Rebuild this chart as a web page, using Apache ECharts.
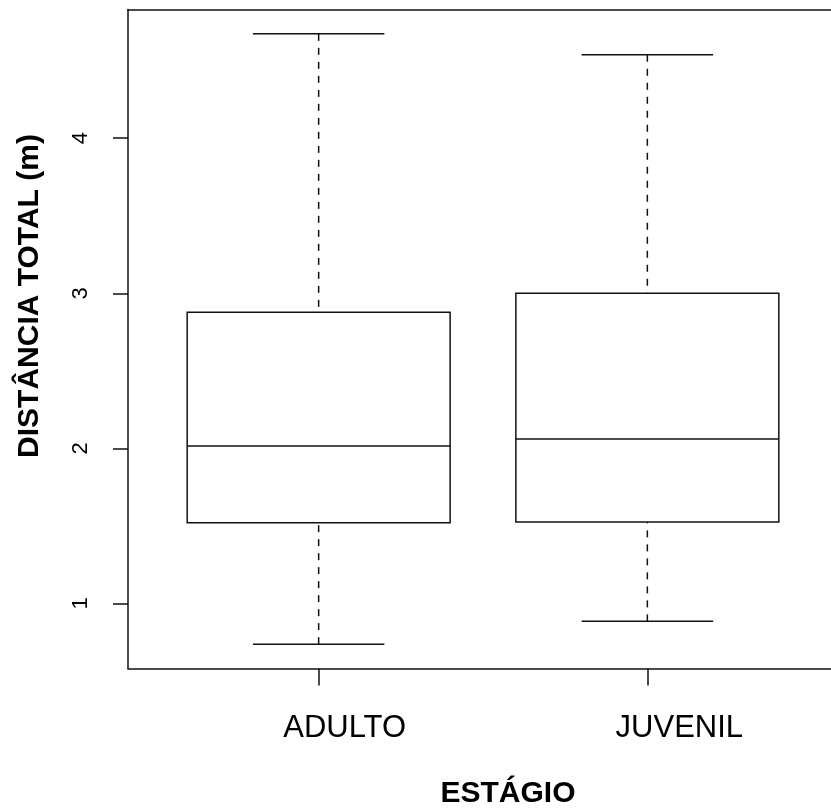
<!DOCTYPE html>
<html><head><meta charset="utf-8">
<script src="https://cdn.jsdelivr.net/npm/echarts@6/dist/echarts.min.js"></script>
<style>html,body{margin:0;padding:0;background:#fff}#c{width:831px;height:808px}</style>
</head><body><div id="c"></div>
<script>
const categories = ['ADULTO', 'JUVENIL'];
const positions = [1, 2];
const lowWhisker = [0.737, 0.884];
const q1 = [1.52, 1.525];
const median = [2.015, 2.06];
const q3 = [2.877, 3.0];
const highWhisker = [4.673, 4.538];
const yTicks = [1, 2, 3, 4];
const yTitle = 'DISTÂNCIA TOTAL (m)';
const xTitle = 'ESTÁGIO';

const FONT = 'Liberation Sans, Arial, sans-serif';
const data = positions.map((p, i) => [p, lowWhisker[i], q1[i], median[i], q3[i], highWhisker[i]]);

const chart = echarts.init(document.getElementById('c'), null, {renderer: 'canvas'});
const lineStyle = {stroke: '#111', lineWidth: 1.5, fill: null};
const dashStyle = {stroke: '#111', lineWidth: 1.5, lineDash: [7, 7], fill: null};
const axisLineStyle = {show: true, lineStyle: {color: '#111', width: 1.5}};

chart.setOption({
  animation: false,
  backgroundColor: '#fff',
  grid: {left: 128, top: 9.5, width: 710, height: 659, outerBoundsMode: 'none', containLabel: false, show: false},
  xAxis: [{
    type: 'value', min: 0.42, max: 2.58, position: 'bottom',
    splitLine: {show: false},
    axisLine: axisLineStyle,
    axisTick: {show: true, customValues: positions, length: 17, lineStyle: {color: '#111', width: 1.5}},
    axisLabel: {
      customValues: positions, margin: 44, fontSize: 31, fontFamily: FONT, color: '#000',
      formatter: v => v === 1 ? '{a|' + categories[0] + '}' : '{b|' + categories[1] + '}',
      rich: {
        a: {fontSize: 31, fontFamily: FONT, color: '#000', padding: [0, 0, 0, 52]},
        b: {fontSize: 31, fontFamily: FONT, color: '#000', padding: [0, 0, 0, 64]}
      }
    }
  }, {
    type: 'value', min: 0.42, max: 2.58, position: 'top',
    splitLine: {show: false}, axisLine: axisLineStyle,
    axisTick: {show: false}, axisLabel: {show: false}
  }],
  yAxis: {
    type: 'value', min: 0.58, max: 4.83,
    splitLine: {show: false},
    axisLine: axisLineStyle,
    axisTick: {show: true, customValues: yTicks, length: 15, lineStyle: {color: '#111', width: 1.5}},
    axisLabel: {customValues: yTicks, rotate: 90, margin: 36, fontSize: 22, fontFamily: FONT, color: '#000'}
  },
  graphic: [
    {type: 'text', x: 30, y: 296, rotation: Math.PI / 2,
     style: {text: yTitle, font: 'bold 30px ' + FONT, fill: '#000', align: 'center', verticalAlign: 'middle'}},
    {type: 'text', x: 508, y: 794, style: {text: xTitle, font: 'bold 30px ' + FONT, fill: '#000', align: 'center', verticalAlign: 'middle'}}
  ],
  series: [{
    type: 'custom',
    data: data,
    clip: false,
    encode: {x: 0, y: [1, 2, 3, 4, 5]},
    renderItem: function (params, api) {
      const x = api.value(0);
      const lo = api.value(1), a = api.value(2), m = api.value(3), b = api.value(4), hi = api.value(5);
      const bw = 0.4, cw = 0.2;
      const p = (xx, yy) => api.coord([xx, yy]);
      const tl = p(x - bw, b), br = p(x + bw, a);
      const ml = p(x - bw, m), mr = p(x + bw, m);
      const hiP = p(x, hi), loP = p(x, lo), bP = p(x, b), aP = p(x, a);
      const hcl = p(x - cw, hi), hcr = p(x + cw, hi);
      const lcl = p(x - cw, lo), lcr = p(x + cw, lo);
      return {type: 'group', children: [
        {type: 'line', shape: {x1: hiP[0], y1: hiP[1], x2: bP[0], y2: bP[1]}, style: dashStyle},
        {type: 'line', shape: {x1: loP[0], y1: loP[1], x2: aP[0], y2: aP[1]}, style: dashStyle},
        {type: 'line', shape: {x1: hcl[0], y1: hcl[1], x2: hcr[0], y2: hcr[1]}, style: lineStyle},
        {type: 'line', shape: {x1: lcl[0], y1: lcl[1], x2: lcr[0], y2: lcr[1]}, style: lineStyle},
        {type: 'rect', shape: {x: tl[0], y: tl[1], width: br[0] - tl[0], height: br[1] - tl[1]}, style: lineStyle},
        {type: 'line', shape: {x1: ml[0], y1: ml[1], x2: mr[0], y2: mr[1]}, style: lineStyle}
      ]};
    }
  }]
});
</script></body></html>
